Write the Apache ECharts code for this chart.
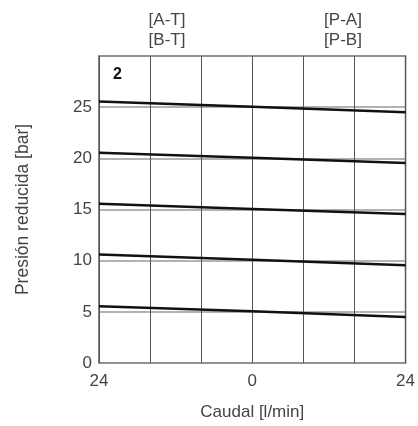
<!DOCTYPE html>
<html>
<head>
<meta charset="utf-8">
<script src="https://cdn.jsdelivr.net/npm/echarts@6/dist/echarts.min.js"></script>
<style>
  html, body { margin: 0; padding: 0; background: #fff; }
  #chart { width: 418px; height: 426px; }
</style>
</head>
<body>
<div id="chart"></div>
<script>
// caudal: izquierda (A-T / B-T) negativo, derecha (P-A / P-B) positivo
var flowPoints = [-24, 0, 24];
// presión reducida en cada punto, una curva por ajuste
var atLeft   = [5.55, 10.6, 15.55, 20.55, 25.55];
var atCenter = [5.05, 10.1, 15.05, 20.05, 25.05];
var atRight  = [4.5, 9.55, 14.55, 19.55, 24.5];
var xTickLabels = ['24', '0', '24'];
var topLabels = ['[A-T]\n[B-T]', '[P-A]\n[P-B]'];

var textColor = '#444';
var font = 'Liberation Sans';

var series = atLeft.map(function (v, i) {
    return {
        type: 'line',
        symbol: 'none',
        silent: true,
        lineStyle: { color: '#111', width: 2.5 },
        data: [
            [flowPoints[0], atLeft[i]],
            [flowPoints[1], atCenter[i]],
            [flowPoints[2], atRight[i]]
        ]
    };
});

var chart = echarts.init(document.getElementById('chart'));
chart.setOption({
    animation: false,
    grid: {
        left: 99, right: 6, top: 56, bottom: 56,
        show: true, borderColor: '#555', borderWidth: 1.5
    },
    xAxis: {
        type: 'value',
        min: -24, max: 24, interval: 8,
        name: 'Caudal [l/min]',
        nameLocation: 'middle',
        nameGap: 41,
        nameTextStyle: { color: textColor, fontSize: 17, fontFamily: font },
        axisLine: { show: false },
        axisTick: { show: false },
        axisLabel: {
            color: textColor, fontSize: 17, fontFamily: font, margin: 10,
            formatter: function (v) {
                var idx = flowPoints.indexOf(v);
                return idx >= 0 ? xTickLabels[idx] : '';
            }
        },
        splitLine: { show: true, lineStyle: { color: '#555', width: 1 } }
    },
    yAxis: {
        type: 'value',
        min: 0, max: 30, interval: 5,
        name: 'Presión reducida [bar]',
        nameLocation: 'middle',
        nameGap: 67,
        nameTextStyle: { color: textColor, fontSize: 17.5, fontFamily: font },
        axisLine: { show: false },
        axisTick: { show: false },
        axisLabel: {
            color: textColor, fontSize: 17, fontFamily: font, margin: 7,
            formatter: function (v) { return v === 30 ? '' : v; }
        },
        splitLine: { show: true, lineStyle: { color: '#999', width: 1.5 } }
    },
    graphic: [
        {
            type: 'text', left: 113, top: 67,
            style: { text: '2', fontSize: 16, fontWeight: 'bold', fill: '#111', fontFamily: font }
        },
        {
            type: 'text', x: 167, y: 10,
            style: { text: topLabels[0], fontSize: 17, lineHeight: 20, fill: textColor, fontFamily: font, align: 'center' }
        },
        {
            type: 'text', x: 343, y: 10,
            style: { text: topLabels[1], fontSize: 17, lineHeight: 20, fill: textColor, fontFamily: font, align: 'center' }
        }
    ],
    series: series
});
</script>
</body>
</html>
